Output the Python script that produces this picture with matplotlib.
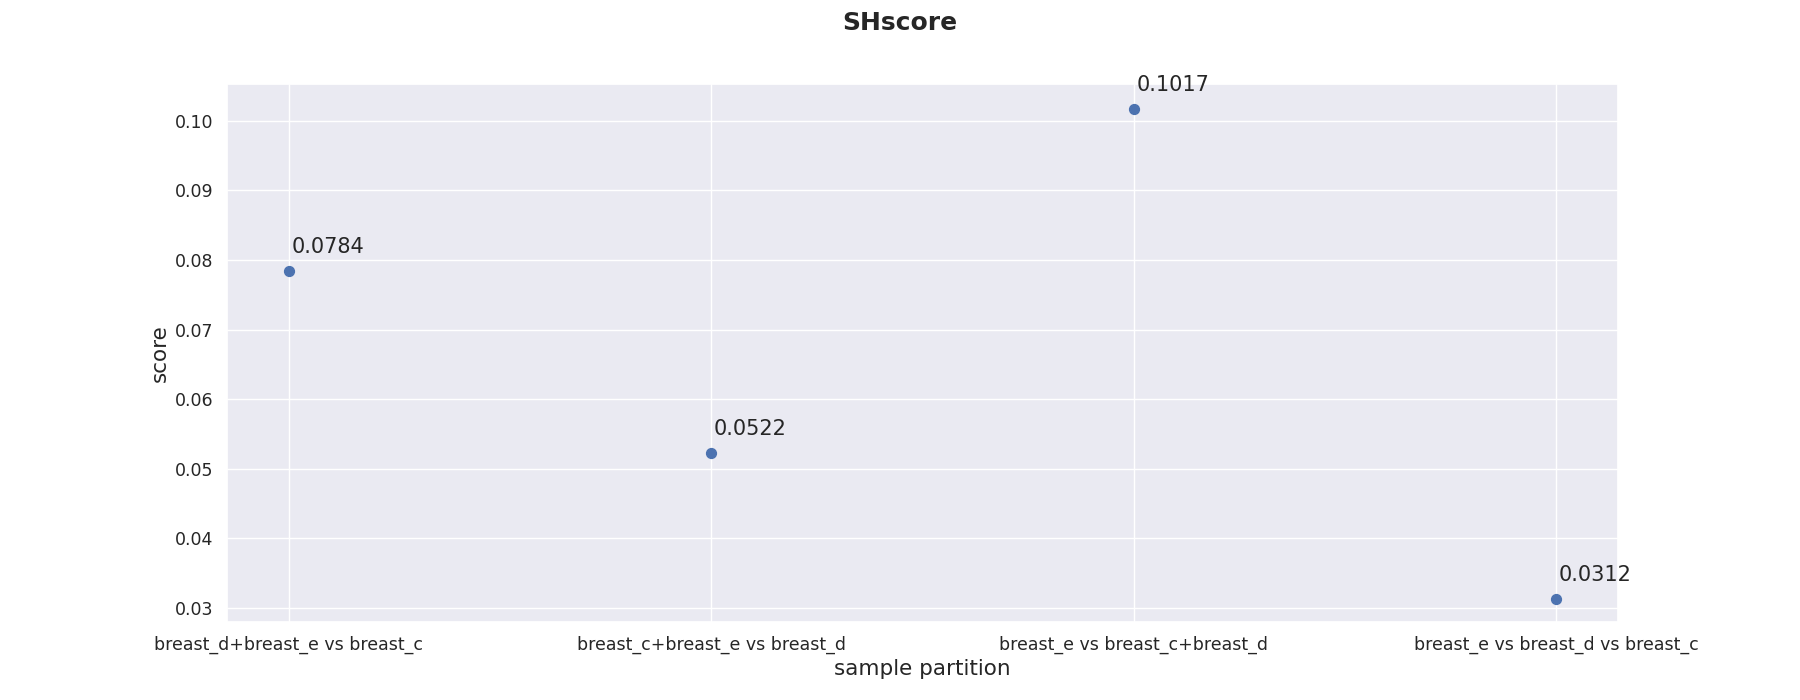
import matplotlib
matplotlib.use("Agg")
import matplotlib.pyplot as plt
import seaborn as sns

partitions = ["breast_d+breast_e vs breast_c", "breast_c+breast_e vs breast_d",
              "breast_e vs breast_c+breast_d", "breast_e vs breast_d vs breast_c"]
scores = [0.0784, 0.0522, 0.1017, 0.0312]

sns.set_theme(style="darkgrid")
plt.rcParams['font.family'] = ['DejaVu Sans']

fig = plt.figure(figsize=(18, 7), dpi=100)
ax = fig.add_axes([0.126, 0.111, 0.773, 0.769])
x = list(range(len(partitions)))
ax.scatter(x, scores, s=50, color="#4c72b0", zorder=3)
for xi, v in zip(x, scores):
    ax.annotate(f"{v:.4f}", (xi, v), xytext=(2, 13), textcoords="offset points", fontsize=15)
ax.set_xticks(x)
ax.set_xticklabels(partitions)
ax.tick_params(labelsize=12.5)
ax.set_xlim(-0.147, 3.147)
ax.set_ylim(0.0279, 0.1053)
ax.set_xlabel("sample partition", fontsize=15.5)
ax.set_ylabel("score", fontsize=15.5)
fig.suptitle("SHscore", fontsize=18, fontweight="bold", x=0.5, y=0.985)
fig.savefig("out.png")
